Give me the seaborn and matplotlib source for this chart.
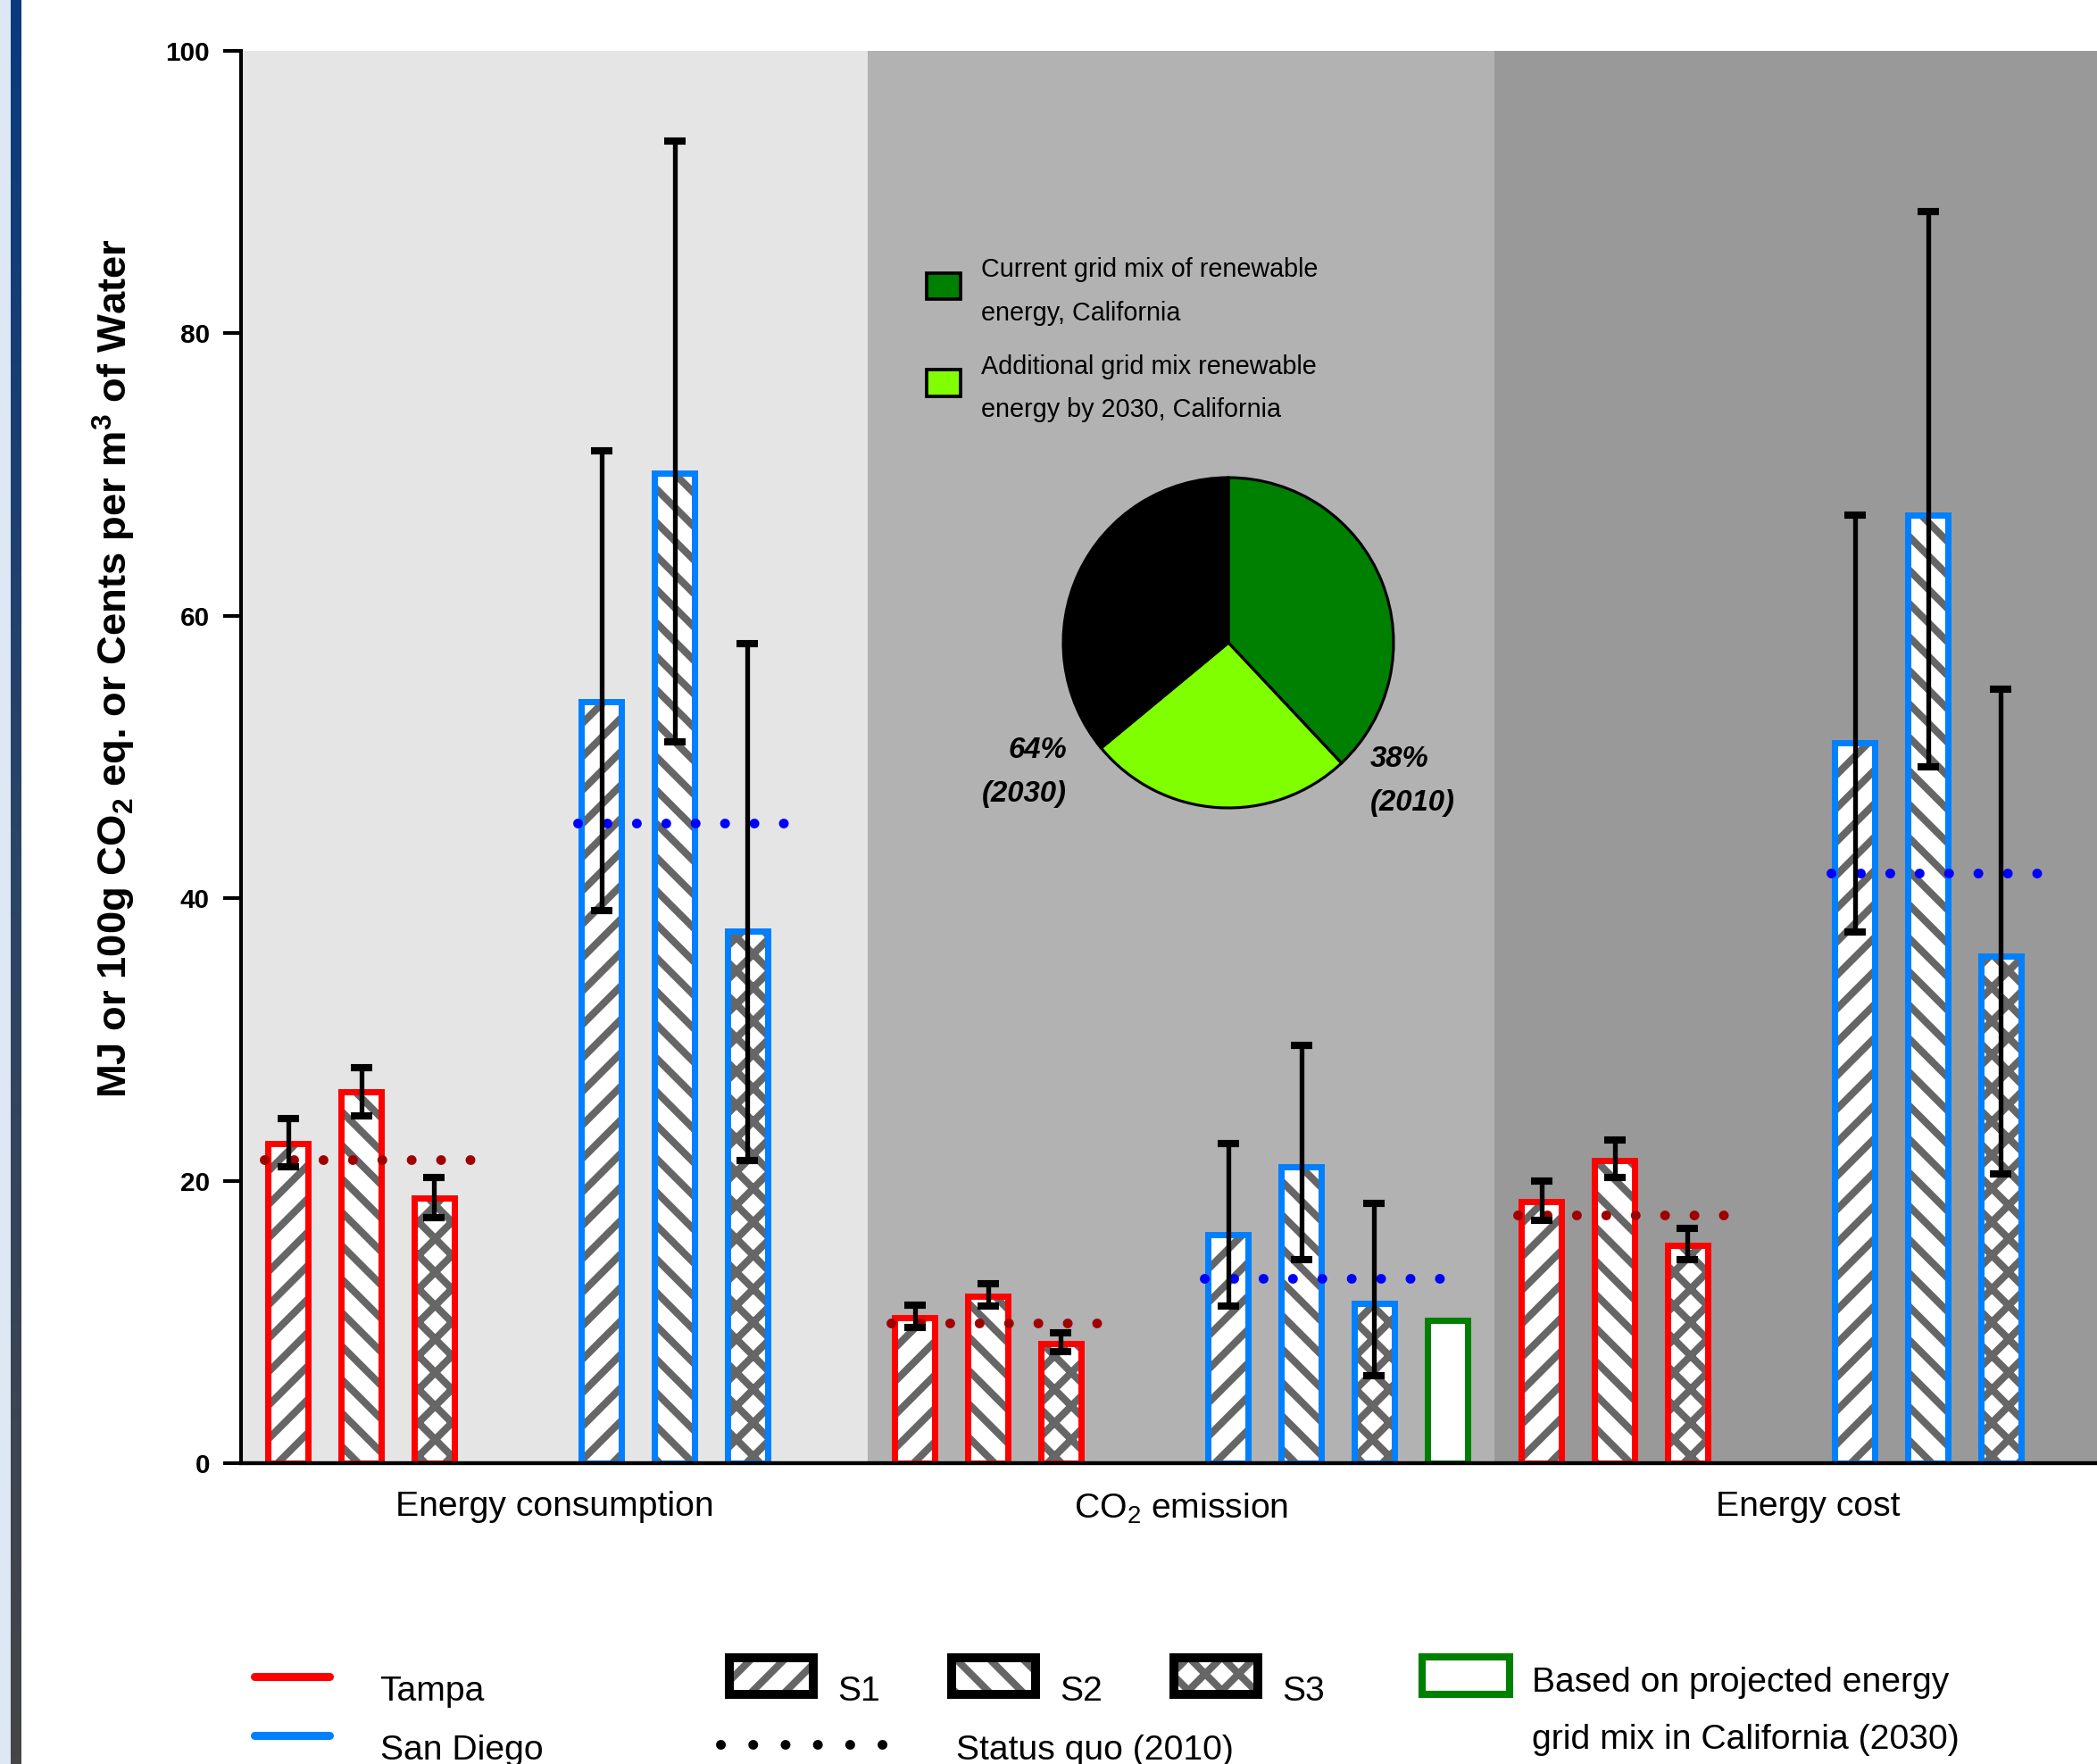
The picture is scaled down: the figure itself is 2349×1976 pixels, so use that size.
import numpy as np
import pandas as pd
import matplotlib
matplotlib.use("Agg")
import matplotlib.pyplot as plt
import seaborn as sns
from matplotlib.patches import Patch, Rectangle
from matplotlib.lines import Line2D
from matplotlib.legend_handler import HandlerTuple, HandlerPatch, HandlerLine2D
from matplotlib.colors import LinearSegmentedColormap

# ------------------------------------------------------------------ data
categories = ["Energy consumption", "CO$_2$ emission", "Energy cost"]
cities = ["Tampa", "San Diego"]
scenarios = ["S1", "S2", "S3"]

tampa_energy = [22.6, 26.3, 18.8]
tampa_energy_lo = [21.0, 24.6, 17.4]
tampa_energy_hi = [24.4, 28.0, 20.2]
sd_energy = [53.9, 70.1, 37.7]
sd_energy_lo = [39.1, 51.1, 21.4]
sd_energy_hi = [71.7, 93.6, 58.0]

tampa_co2 = [10.3, 11.8, 8.5]
tampa_co2_lo = [9.6, 11.1, 7.9]
tampa_co2_hi = [11.2, 12.7, 9.2]
sd_co2 = [16.2, 21.0, 11.3]
sd_co2_lo = [11.1, 14.4, 6.2]
sd_co2_hi = [22.6, 29.6, 18.4]
sd_co2_projected_2030 = 10.1

tampa_cost = [18.5, 21.4, 15.4]
tampa_cost_lo = [17.2, 20.2, 14.4]
tampa_cost_hi = [20.0, 22.9, 16.6]
sd_cost = [51.0, 67.1, 35.9]
sd_cost_lo = [37.6, 49.3, 20.5]
sd_cost_hi = [67.1, 88.6, 54.8]

status_quo_tampa = [21.5, 9.9, 17.6]
status_quo_sd = [45.3, 13.1, 41.8]

pie_labels = ["Current grid mix of renewable\nenergy, California",
              "Additional grid mix renewable\nenergy by 2030, California",
              "Non-renewable"]
pie_values = [38, 26, 36]
pie_text = ["38%\n(2010)", "64%\n(2030)"]
projected_label = "Based on projected energy\ngrid mix in California (2030)"
status_quo_label = "Status quo (2010)"
ylabel = r"MJ or 100g CO$_{\mathbf{2}}$ eq. or Cents per m$^{\mathbf{3}}$ of Water"

# ------------------------------------------------------------------ style
W, H, DPI = 2349, 1976, 225
RED, BLUE, GREEN = "#ff0000", "#0080ff", "#008000"
HATCH_GRAY = "#666666"
hatch_map = {"S1": "//", "S2": "\\\\", "S3": "xx", "Projected": ""}
region_colors = ["#e5e5e5", "#b2b2b2", "#999999"]

sns.set_theme(style="white")
plt.rcParams.update({
    "font.family": ["Liberation Sans", "DejaVu Sans"],
    "mathtext.fontset": "custom",
    "mathtext.rm": "Liberation Sans",
    "mathtext.it": "Liberation Sans:italic",
    "mathtext.bf": "Liberation Sans:bold",
    "mathtext.default": "regular",
    "hatch.linewidth": 2.6,
    "text.color": "black",
    "axes.labelcolor": "black",
    "xtick.color": "black",
    "ytick.color": "black",
    "axes.edgecolor": "black",
})

GROUP_STEP = 4.283
HALF_GAP = (GROUP_STEP - 3) / 2
BAR_W = 0.55

series = [
    (tampa_energy, tampa_energy_lo, tampa_energy_hi),
    (sd_energy, sd_energy_lo, sd_energy_hi),
    (tampa_co2, tampa_co2_lo, tampa_co2_hi),
    (sd_co2, sd_co2_lo, sd_co2_hi),
    (tampa_cost, tampa_cost_lo, tampa_cost_hi),
    (sd_cost, sd_cost_lo, sd_cost_hi),
]
rows = []
for g, (vals, lo, hi) in enumerate(series):
    for b, sc in enumerate(scenarios):
        rows.append(dict(pos=g * GROUP_STEP + b, value=vals[b], lo=lo[b], hi=hi[b],
                         city=cities[g % 2], scenario=sc))
rows.append(dict(pos=3 * GROUP_STEP + 3, value=sd_co2_projected_2030, lo=np.nan,
                 hi=np.nan, city="San Diego", scenario="Projected"))
df = pd.DataFrame(rows).sort_values("pos").reset_index(drop=True)


def edge_color(r):
    if r.scenario == "Projected":
        return GREEN
    return RED if r.city == "Tampa" else BLUE


fig = plt.figure(figsize=(W / DPI, H / DPI), dpi=DPI, facecolor="white")

# decorative page strip on the left
fig.add_artist(Rectangle((0, 0), 12 / W, 1, transform=fig.transFigure,
                         color="#dde8f4", zorder=0))
sax = fig.add_axes([12 / W, 0, 12 / W, 1])
sax.axis("off")
sax.imshow(np.linspace(0, 1, 256)[:, None], aspect="auto",
           cmap=LinearSegmentedColormap.from_list("strip", ["#0a3a7e", "#2c4466", "#464646"]),
           extent=[0, 1, 0, 1])

ax = fig.add_axes([270 / W, 1 - 1639 / H, 2106 / W, (1639 - 57) / H])

# background regions
centers = []
for r in range(3):
    left = 2 * r * GROUP_STEP - HALF_GAP
    right = (2 * r + 1) * GROUP_STEP + 3 + HALF_GAP
    ax.axvspan(left, right, color=region_colors[r], zorder=0, lw=0)
    centers.append((left + right) / 2)

# hatched fill layer
n0 = len(ax.patches)
sns.barplot(data=df, x="pos", y="value", native_scale=True, width=BAR_W,
            errorbar=None, color="white", linewidth=0, ax=ax, zorder=2)
for p, (_, r) in zip(ax.patches[n0:], df.iterrows()):
    p.set_facecolor("white")
    p.set_edgecolor(HATCH_GRAY)
    p.set_linewidth(0)
    p.set_hatch(hatch_map[r.scenario])

# outline layer
n1 = len(ax.patches)
sns.barplot(data=df, x="pos", y="value", native_scale=True, width=BAR_W,
            errorbar=None, fill=False, linewidth=2.24, ax=ax, zorder=3)
for p, (_, r) in zip(ax.patches[n1:], df.iterrows()):
    p.set_facecolor("none")
    p.set_edgecolor(edge_color(r))
    p.set_linewidth(2.24)
    p.set_hatch(None)

# status quo dotted lines
sq_end = [2.55, 2.55, 2.55, 3.28, 2.55, 2.55]
for g in range(6):
    val = status_quo_tampa[g // 2] if g % 2 == 0 else status_quo_sd[g // 2]
    col = "#a00000" if g % 2 == 0 else "#0000ff"
    x0 = g * GROUP_STEP - 0.33
    x1 = g * GROUP_STEP + sq_end[g]
    ax.plot([x0, x1], [val, val], color=col, lw=3.5, linestyle=(0, (0.01, 3.0)),
            dash_capstyle="round", zorder=4)

# error bars
err = df.dropna(subset=["lo"])
ax.errorbar(err["pos"], err["value"],
            yerr=[err["value"] - err["lo"], err["hi"] - err["value"]],
            fmt="none", ecolor="black", elinewidth=1.7, capsize=3.8, capthick=2.6, zorder=5)

ax.set_xlim(-HALF_GAP, 5 * GROUP_STEP + 3 + HALF_GAP)
ax.set_ylim(0, 100)
ax.set_yticks(np.arange(0, 101, 20))
ax.set_yticklabels([str(v) for v in range(0, 101, 20)], fontsize=9.5, fontweight="bold")
ax.tick_params(axis="y", left=True, length=6.4, width=1.3, pad=4.8, direction="out")
ax.set_xticks(centers)
ax.set_xticklabels(categories, fontsize=12.5)
ax.tick_params(axis="x", bottom=False, length=0, pad=10)
ax.set_xlabel("")
for s in ["top", "right"]:
    ax.spines[s].set_visible(False)
ax.spines["left"].set_linewidth(1.3)
ax.spines["bottom"].set_linewidth(1.4)
for s in ["left", "bottom"]:
    ax.spines[s].set_zorder(6)
    ax.spines[s].set_color("black")
ax.grid(False)

ax.set_ylabel(ylabel, fontsize=14.5, fontweight="bold")
ax.yaxis.label.set_va("center")
ax.yaxis.set_label_coords(128 / W, 1 - 749 / H, transform=fig.transFigure)

# ------------------------------------------------------------------ pie inset
R = 185
pax = fig.add_axes([(1376 - 189) / W, 1 - (720 + 189) / H, 378 / W, 378 / H])
pax.pie(pie_values, colors=[GREEN, "#80ff00", "#000000"], startangle=90,
        counterclock=False, wedgeprops=dict(edgecolor="black", linewidth=1.0))
pax.set_xlim(-189 / R, 189 / R)
pax.set_ylim(-189 / R, 189 / R)
pax.set_aspect("equal")

fig.text(1535 / W, 1 - 875 / H, pie_text[0], ha="left", va="center", multialignment="left",
         fontsize=10.5, fontweight="bold", fontstyle="italic", linespacing=1.75)
fig.text(1195 / W, 1 - 865 / H, pie_text[1], ha="right", va="center", multialignment="right",
         fontsize=10.5, fontweight="bold", fontstyle="italic", linespacing=1.75)


# ------------------------------------------------------------------ legend helpers
def shifted_box(dy):
    def make(legend, orig_handle, xdescent, ydescent, width, height, fontsize):
        return Rectangle((-xdescent, -ydescent + dy * fontsize), width, height)
    return HandlerPatch(patch_func=make)


class ShiftedLine(HandlerLine2D):
    def __init__(self, dy, **kw):
        super().__init__(**kw)
        self._dy = dy

    def create_artists(self, legend, orig_handle, xdescent, ydescent, width, height,
                       fontsize, trans):
        arts = super().create_artists(legend, orig_handle, xdescent, ydescent, width,
                                      height, fontsize, trans)
        for a in arts:
            a.set_ydata(np.asarray(a.get_ydata(), float) + self._dy * fontsize)
        return arts


common = dict(loc="upper left", frameon=False, borderpad=0, borderaxespad=0)

# pie legend
pie_handles = [Patch(facecolor=GREEN, edgecolor="black", linewidth=1.2),
               Patch(facecolor="#80ff00", edgecolor="black", linewidth=1.2)]
leg_pie = fig.legend(pie_handles, pie_labels[:2], bbox_to_anchor=(1038 / W, 1 - 288 / H),
                     fontsize=9.2, handlelength=1.32, handleheight=1.22, handletextpad=0.8,
                     labelspacing=1.1, handler_map={Patch: shifted_box(0.25)}, **common)
for t in leg_pie.get_texts():
    t.set_linespacing(1.95)

# city legend
city_handles = [Line2D([], [], color=RED, lw=2.9), Line2D([], [], color=BLUE, lw=2.9)]
fig.legend(city_handles, cities, bbox_to_anchor=(285 / W, 1 - 1877 / H), fontsize=12.5,
           handlelength=2.15, handletextpad=1.45, labelspacing=0.78,
           handler_map={Line2D: ShiftedLine(0.35)}, **common)

# scenario legend
scen_handles = [(Patch(facecolor="white", edgecolor=HATCH_GRAY, linewidth=0, hatch=hatch_map[s]),
                 Patch(facecolor="none", edgecolor="black", linewidth=3.2)) for s in scenarios]
fig.legend(scen_handles, scenarios, bbox_to_anchor=(817 / W, 1 - 1871 / H), ncol=3,
           fontsize=12.5, handlelength=2.4, handleheight=1.23, handletextpad=0.7,
           columnspacing=2.05,
           handler_map={tuple: HandlerTuple(ndivide=1, pad=0), Patch: shifted_box(0.36)},
           **common)

# status quo legend
sq_handle = Line2D([], [], color="black", lw=3.5, linestyle=(0, (0.01, 3.3)),
                   dash_capstyle="round")
fig.legend([sq_handle], [status_quo_label], bbox_to_anchor=(807 / W, 1 - 1943 / H),
           fontsize=12.5, handlelength=4.95, handletextpad=1.8,
           handler_map={Line2D: ShiftedLine(0.08)}, **common)

# projected legend
proj_handle = Patch(facecolor="white", edgecolor=GREEN, linewidth=2.6)
leg_p = fig.legend([proj_handle], [projected_label], bbox_to_anchor=(1593 / W, 1 - 1867 / H),
                   fontsize=12.5, handlelength=2.5, handleheight=1.3, handletextpad=0.64,
                   handler_map={Patch: shifted_box(1.05)}, **common)
for t in leg_p.get_texts():
    t.set_linespacing(2.0)

fig.savefig("out.png", dpi=DPI, facecolor="white")
